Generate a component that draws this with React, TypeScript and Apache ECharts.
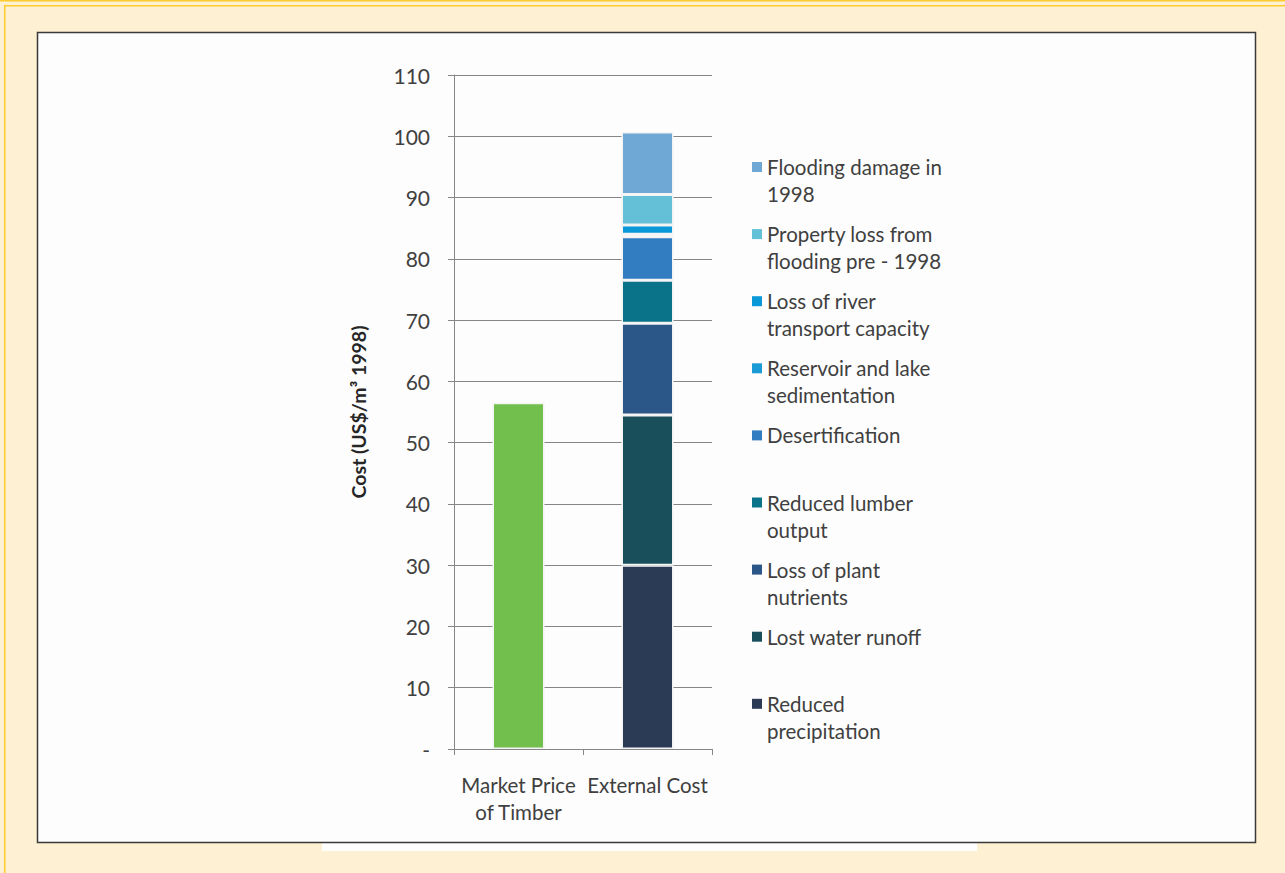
import React, { useEffect, useRef } from "react";
import * as echarts from "echarts";

const categories = ["Market Price\nof Timber", "External Cost"];
const marketName = "Market Price of Timber";
const marketValue = 56.5;

// stacked from bottom to top
const seriesNames = [
  "Reduced precipitation",
  "Lost water runoff",
  "Loss of plant nutrients",
  "Reduced lumber output",
  "Desertification",
  "Reservoir and lake sedimentation",
  "Loss of river transport capacity",
  "Property loss from flooding pre - 1998",
  "Flooding damage in 1998",
];
const seriesValues = [30, 24.5, 15, 7, 7.1, 0.4, 1.5, 5.0, 10.2];
const seriesColors = [
  "#2b3a55",
  "#194f5b",
  "#2a5788",
  "#0b7389",
  "#327cc1",
  "#1b9bd6",
  "#0a98d8",
  "#63c0d7",
  "#6fa7d5",
];
const legendLabels = [
  "Reduced\nprecipitation",
  "Lost water runoff",
  "Loss of plant\nnutrients",
  "Reduced lumber\noutput",
  "Desertification",
  "Reservoir and lake\nsedimentation",
  "Loss of river\ntransport capacity",
  "Property loss from\nflooding pre - 1998",
  "Flooding damage in\n1998",
];
const yTicks = [0, 10, 20, 30, 40, 50, 60, 70, 80, 90, 100, 110];

const FONT = "Lato, 'Open Sans', sans-serif";
const TXT = "#404040";

export default function App() {
  const ref = useRef<HTMLDivElement>(null);
  useEffect(() => {
    if (!ref.current) return;
    const chart = echarts.init(ref.current, null, { renderer: "svg" });

    const series: any[] = [
      {
        name: marketName,
        type: "bar",
        stack: "total",
        barWidth: 52,
        data: [marketValue, null],
        itemStyle: { color: "#72bf4e", borderColor: "#f4f4f4", borderWidth: 1.5 },
      },
      ...seriesNames.map((n, i) => ({
        name: n,
        type: "bar",
        stack: "total",
        barWidth: 52,
        data: [null, seriesValues[i]],
        itemStyle: { color: seriesColors[i], borderColor: "#f4f4f4", borderWidth: 1.5 },
      })),
    ];

    // legend drawn from arrays (top item = last stacked series)
    const legendEls: any[] = [];
    const order = seriesNames.map((_, i) => seriesNames.length - 1 - i);
    order.forEach((idx, k) => {
      const cy = 167 + k * 67.1;
      legendEls.push({
        type: "rect",
        z: 10,
        shape: { x: 752, y: cy - 5, width: 10, height: 10 },
        style: { fill: seriesColors[idx] },
      });
      legendEls.push({
        type: "text",
        z: 10,
        x: 767,
        y: cy - 13.5,
        style: {
          text: legendLabels[idx],
          font: `20.5px ${FONT}`,
          fill: TXT,
          lineHeight: 27,
          verticalAlign: "top",
        },
      });
    });

    chart.setOption({
      animation: false,
      backgroundColor: "#fef0d3",
      graphic: [
        { type: "rect", z: -100, shape: { x: 0, y: 0, width: 1285, height: 1.5 }, style: { fill: "#ffcb2e" } },
        { type: "rect", z: -100, shape: { x: 4, y: 5, width: 1281, height: 1.5 }, style: { fill: "#ffcb2e" } },
        { type: "rect", z: -100, shape: { x: 4, y: 5, width: 1.5, height: 868 }, style: { fill: "#ffcb2e" } },
        { type: "rect", z: -99, shape: { x: 322, y: 842, width: 655, height: 9 }, style: { fill: "#fefefe" } },
        { type: "rect", z: -98, shape: { x: 37.5, y: 32.5, width: 1218, height: 810 }, style: { fill: "#fdfdfd", stroke: "#3a3a3a", lineWidth: 1.5 } },
        ...legendEls,
      ],
      grid: { left: 454, right: 573, top: 75, bottom: 124, containLabel: false },
      xAxis: {
        type: "category",
        data: categories,
        axisLine: { lineStyle: { color: "#868686", width: 1 } },
        axisTick: { show: true, length: 6, lineStyle: { color: "#868686" } },
        axisLabel: {
          color: TXT,
          fontFamily: FONT,
          fontSize: 20.5,
          lineHeight: 27,
          margin: 22,
          interval: 0,
          hideOverlap: false,
        },
      },
      yAxis: {
        type: "value",
        min: 0,
        max: 110,
        interval: 10,
        name: "Cost (US$/m³ 1998)",
        nameLocation: "middle",
        nameGap: 86,
        nameRotate: 90,
        nameTextStyle: { color: "#262626", fontFamily: FONT, fontSize: 19.5, fontWeight: "bold" },
        axisLine: { show: true, lineStyle: { color: "#868686", width: 1 } },
        axisTick: { show: true, length: 6, lineStyle: { color: "#868686" } },
        splitLine: { show: true, lineStyle: { color: "#868686", width: 1 } },
        axisLabel: {
          color: TXT,
          fontFamily: FONT,
          fontSize: 21,
          margin: 24,
          formatter: (v: number) => (yTicks.includes(v) && v === 0 ? "-" : String(v)),
        },
      },
      series,
    });
    return () => chart.dispose();
  }, []);
  return (
    <div
      ref={ref}
      style={{ position: "absolute", left: 0, top: 0, width: 1285, height: 873 }}
    />
  );
}
